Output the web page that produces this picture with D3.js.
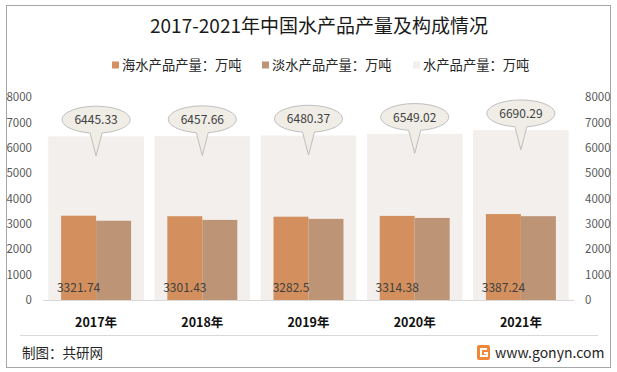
<!DOCTYPE html>
<html><head><meta charset="utf-8">
<script src="https://cdn.jsdelivr.net/npm/d3@7/dist/d3.min.js"></script>
<style>
html,body{margin:0;padding:0;background:#fff;}
svg{display:block;}
text{font-family:"Noto Sans CJK SC","Liberation Sans",sans-serif;}
</style></head>
<body>
<svg id="chart" width="617" height="372"></svg>
<script>
const years = ["2017年","2018年","2019年","2020年","2021年"];
const seaValues = [3321.74, 3301.43, 3282.5, 3314.38, 3387.24];
const freshValues = [3123.59, 3156.23, 3197.87, 3234.64, 3303.05];
const totalValues = [6445.33, 6457.66, 6480.37, 6549.02, 6690.29];
const yTicks = [0,1000,2000,3000,4000,5000,6000,7000,8000];
const seriesNames = ["海水产品产量：万吨","淡水产品产量：万吨","水产品产量：万吨"];
const seriesColors = ["#D3905E","#BE9476","#F3EFED"];

const svg = d3.select("#chart");
// outer border
svg.append("rect").attr("x",6.5).attr("y",5.5).attr("width",604).attr("height",362)
  .attr("fill","#fff").attr("stroke","#a6a6a6").attr("stroke-width",1);

// title
svg.append("text").attr("x",319).attr("y",33).attr("text-anchor","middle")
  .attr("font-size",19).attr("fill","#1a1a1a").text("2017-2021年中国水产品产量及构成情况");

// legend
const legendX = [112, 262, 413];
seriesNames.forEach((n,i)=>{
  svg.append("rect").attr("x",legendX[i]).attr("y",61.5).attr("width",7).attr("height",7).attr("fill",seriesColors[i]);
  svg.append("text").attr("x",legendX[i]+10).attr("y",70).attr("font-size",13.3).attr("fill","#262626").text(n);
});

const y = d3.scaleLinear().domain([0,8000]).range([300,97]);
const x = d3.scaleBand().domain(years).range([43,574]).paddingInner(0.1).paddingOuter(0.05);
const x1 = d3.scaleBand().domain(["sea","fresh"]).range([0,x.bandwidth()]).paddingOuter(0.366).paddingInner(0);

// axes (labels only)
const fmt = d3.format("d");
const leftAxis = d3.axisLeft(y).tickValues(yTicks).tickFormat(fmt).tickSize(0).tickPadding(0);
const gl = svg.append("g").attr("transform","translate(32,0)").call(leftAxis);
gl.select(".domain").remove();
gl.selectAll("text").attr("font-size",11.5).attr("fill","#595959").attr("font-family","Liberation Sans, Arial, sans-serif");
const rightAxis = d3.axisRight(y).tickValues(yTicks).tickFormat(fmt).tickSize(0).tickPadding(0);
const gr = svg.append("g").attr("transform","translate(585,0)").call(rightAxis);
gr.select(".domain").remove();
gr.selectAll("text").attr("font-size",11.5).attr("fill","#595959").attr("font-family","Liberation Sans, Arial, sans-serif");

// total background bars
svg.append("g").selectAll("rect").data(years).join("rect")
  .attr("x",d=>x(d)).attr("width",x.bandwidth())
  .attr("y",(d,i)=>y(totalValues[i])).attr("height",(d,i)=>y(0)-y(totalValues[i]))
  .attr("fill",seriesColors[2]);

// sea and fresh bars
svg.append("g").selectAll("rect").data(years).join("rect")
  .attr("x",d=>x(d)+x1("sea")).attr("width",x1.bandwidth())
  .attr("y",(d,i)=>y(seaValues[i])).attr("height",(d,i)=>y(0)-y(seaValues[i]))
  .attr("fill",seriesColors[0]);
svg.append("g").selectAll("rect").data(years).join("rect")
  .attr("x",d=>x(d)+x1("fresh")).attr("width",x1.bandwidth())
  .attr("y",(d,i)=>y(freshValues[i])).attr("height",(d,i)=>y(0)-y(freshValues[i]))
  .attr("fill",seriesColors[1]);

// baseline
svg.append("line").attr("x1",43).attr("x2",574).attr("y1",y(0)+0.5).attr("y2",y(0)+0.5)
  .attr("stroke","#d9d9d9").attr("stroke-width",1);

// sea labels
svg.append("g").selectAll("text").data(years).join("text")
  .attr("x",d=>x(d)+x1("sea")+x1.bandwidth()/2).attr("y",291.5)
  .attr("text-anchor","middle").attr("font-size",12).attr("fill","#404040")
  .attr("font-family","Liberation Sans, Arial, sans-serif")
  .text((d,i)=>seaValues[i]);

// callouts for totals
const cg = svg.append("g").selectAll("g").data(years).join("g")
  .attr("transform",(d,i)=>`translate(${x(d)+x.bandwidth()/2},${y(totalValues[i])})`);
const rx = 34, ry = 13.5, cy = -16.8, tip = 19.5;
cg.append("path").attr("d",()=>{
  const bx1 = -6, by1 = cy + ry*Math.sqrt(1-(6/rx)**2);
  const bx2 = 6, by2 = by1;
  return `M${bx2},${by2} A${rx},${ry} 0 1 0 ${bx1},${by1} L0,${tip} Z`;
}).attr("fill","#EFEDE6").attr("stroke","#bfbfbf").attr("stroke-width",1);
cg.append("text").attr("x",0).attr("y",cy+4.5).attr("text-anchor","middle")
  .attr("font-size",12).attr("fill","#404040")
  .attr("font-family","Liberation Sans, Arial, sans-serif")
  .text((d,i)=>totalValues[i].toFixed(2));

// x labels
svg.append("g").selectAll("text").data(years).join("text")
  .attr("x",d=>x(d)+x.bandwidth()/2).attr("y",327)
  .attr("text-anchor","middle").attr("font-size",12.5).attr("font-weight","bold").attr("fill","#111")
  .text(d=>d);

// separator line
svg.append("line").attr("x1",20).attr("x2",598).attr("y1",335.5).attr("y2",335.5)
  .attr("stroke","#d9d9d9").attr("stroke-width",1);

// footer
svg.append("text").attr("x",22).attr("y",358).attr("font-size",13.5).attr("fill","#262626").text("制图：共研网");
const logo = svg.append("g").attr("transform","translate(477,345)");
logo.append("rect").attr("width",13).attr("height",15).attr("rx",2).attr("fill","#F0883A");
logo.append("path").attr("d","M10,4 L4,4 L4,11 L10,11 L10,8 L7,8").attr("fill","none").attr("stroke","#fff").attr("stroke-width",2);
svg.append("text").attr("x",495).attr("y",358).attr("font-size",14).attr("fill","#262626")
  .attr("font-family","Liberation Sans, Arial, sans-serif").text("www.gonyn.com");
</script>
</body></html>
